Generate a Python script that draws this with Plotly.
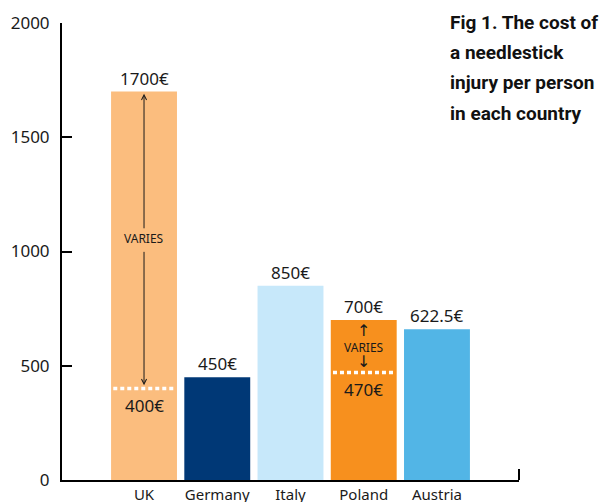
import plotly.graph_objects as go

countries = ["UK", "Germany", "Italy", "Poland", "Austria"]
bar_values = [1700, 450, 850, 700, 660]
top_labels = ["1700€", "450€", "850€", "700€", "622.5€"]
bar_colors = ["#FBBD7E", "#003876", "#C7E8FA", "#F7901E", "#52B5E6"]
low_countries = ["UK", "Poland"]
low_values = [400, 470]
low_labels = ["400€", "470€"]
y_ticks = [0, 500, 1000, 1500, 2000]
title_lines = ["Fig 1. The cost of", "a needlestick", "injury per person", "in each country"]

FONT = "Noto Sans"
TITLE_FONT = "Roboto"
TXT = "#1a1a1a"

# page body has an 8px default margin
OFF = 8
PL, PT, PW, PH = 62, 23, 457, 457  # plot area in window pixels

xpos = list(range(len(countries)))
idx = {c: i for i, c in enumerate(countries)}

fig = go.Figure()
fig.add_trace(go.Bar(x=xpos, y=bar_values, marker=dict(color=bar_colors, line=dict(width=0)),
                     width=0.9, hoverinfo="skip"))

ann = []
shapes = []
for i, (v, t) in enumerate(zip(bar_values, top_labels)):
    ann.append(dict(x=i, y=v, text=t, showarrow=False, yanchor="bottom", yshift=0,
                    font=dict(family=FONT, size=17, color=TXT)))

for c, v, t in zip(low_countries, low_values, low_labels):
    i = idx[c]
    shapes.append(dict(type="line", x0=i - 0.42, x1=i + 0.43, y0=v, y1=v, xref="x", yref="y",
                       line=dict(color="white", width=3.5, dash="4px,3px")))
    ann.append(dict(x=i, y=v, text=t, showarrow=False, yanchor="top", yshift=-3,
                    font=dict(family=FONT, size=17, color=TXT)))

# UK varies arrows
uk = idx["UK"]
ann.append(dict(x=uk, y=1690, ax=uk, ay=1095, axref="x", ayref="y", text="", showarrow=True,
                arrowhead=5, arrowsize=1, arrowwidth=1, arrowcolor=TXT))
ann.append(dict(x=uk, y=415, ax=uk, ay=1005, axref="x", ayref="y", text="", showarrow=True,
                arrowhead=5, arrowsize=1, arrowwidth=1, arrowcolor=TXT))
ann.append(dict(x=uk, y=1055, text="VARIES", showarrow=False,
                font=dict(family=FONT, size=12, color=TXT)))

# Poland varies text
pl = idx["Poland"]
arrow_span = "<span style='font-family:DejaVu Sans;font-size:16px'>{}</span>"
ann.append(dict(x=pl, y=588, text=arrow_span.format("↑") + "<br>VARIES<br>" + arrow_span.format("↓"),
                showarrow=False, font=dict(family=FONT, size=12, color=TXT)))

# title
title_y = [22, 52, 82, 113]
for line, py in zip(title_lines, title_y):
    ann.append(dict(xref="paper", yref="paper", x=(448 - PL) / PW, y=(PT + PH - py) / PH,
                    xanchor="left", yanchor="middle", text="<b>" + line + "</b>", showarrow=False,
                    font=dict(family=TITLE_FONT, size=19, color="#111111")))

# right-end upturn of the x axis
shapes.append(dict(type="line", xref="paper", yref="y", x0=1, x1=1, y0=0, y1=48,
                   line=dict(color="black", width=2)))

W, H = 611 - OFF, 502 - OFF
l = PL - OFF
t = PT - OFF
r = W - l - PW
b = H - t - PH

fig.update_layout(
    width=W, height=H,
    margin=dict(l=l, r=r, t=t, b=b),
    plot_bgcolor="white", paper_bgcolor="white",
    showlegend=False,
    annotations=ann, shapes=shapes,
    xaxis=dict(range=[-1.12, 5.12], tickvals=xpos, ticktext=countries, showline=True,
               linecolor="black", linewidth=2, ticks="", showgrid=False, zeroline=False,
               automargin=False,
               tickfont=dict(family=FONT, size=15, color=TXT), ticklabelstandoff=0),
    yaxis=dict(range=[0, 2000], tickvals=y_ticks, showline=True, linecolor="black", linewidth=2,
               ticks="inside", ticklen=10, tickwidth=2, tickcolor="black", showgrid=False,
               automargin=False,
               zeroline=False, tickfont=dict(family=FONT, size=17, color=TXT),
               ticklabelstandoff=7),
)

fig.write_html("out.html")
